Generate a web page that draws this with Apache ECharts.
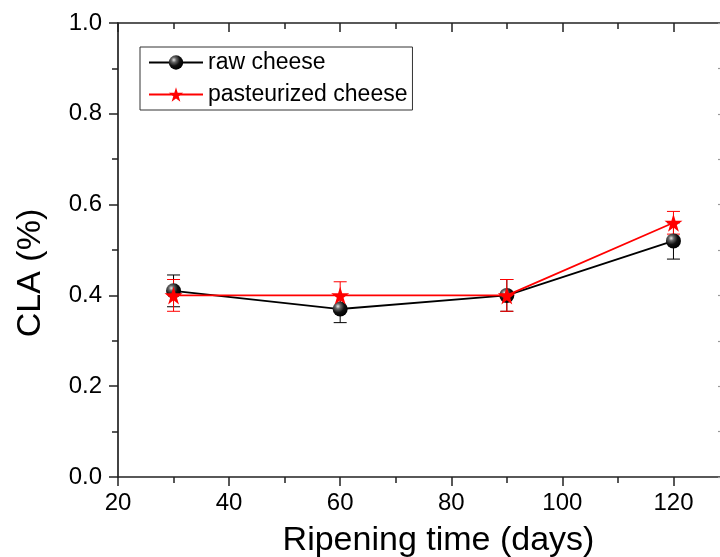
<!DOCTYPE html>
<html>
<head>
<meta charset="utf-8">
<script src="https://cdn.jsdelivr.net/npm/echarts@6/dist/echarts.min.js"></script>
<style>
  html, body { margin: 0; padding: 0; background: #fff; overflow: hidden; }
  #chart { width: 745px; height: 557px; }
</style>
</head>
<body>
<div id="chart"></div>
<script>
// ripening days
const days = [30, 60, 90, 120];
// CLA (%) means and error
const rawCheese = [0.41, 0.37, 0.40, 0.52];
const rawErr = [0.035, 0.03, 0.035, 0.04];
const pastCheese = [0.40, 0.40, 0.40, 0.56];
const pastErr = [0.035, 0.03, 0.035, 0.025];

const FONT = "'Liberation Sans', Arial, sans-serif";
const STAR = 'path://M50,0 L61,35 L98,35 L68,57 L79,91 L50,70 L21,91 L32,57 L2,35 L39,35 Z';

const sphere = new echarts.graphic.RadialGradient(0.35, 0.32, 0.7, [
  { offset: 0, color: '#e6e6e6' },
  { offset: 0.25, color: '#666' },
  { offset: 0.6, color: '#111' },
  { offset: 1, color: '#000' }
]);

function errorSeries(name, vals, errs, color) {
  return {
    name: name,
    type: 'custom',
    z: 2,
    silent: true,
    data: days.map((d, i) => [d, vals[i] - errs[i], vals[i] + errs[i]]),
    renderItem(params, api) {
      const lo = api.coord([api.value(0), api.value(1)]);
      const hi = api.coord([api.value(0), api.value(2)]);
      const w = 6.5;
      const style = { stroke: color, lineWidth: 1 };
      return {
        type: 'group',
        children: [
          { type: 'line', shape: { x1: lo[0], y1: lo[1], x2: hi[0], y2: hi[1] }, style },
          { type: 'line', shape: { x1: lo[0] - w, y1: lo[1], x2: lo[0] + w, y2: lo[1] }, style },
          { type: 'line', shape: { x1: hi[0] - w, y1: hi[1], x2: hi[0] + w, y2: hi[1] }, style }
        ]
      };
    }
  };
}

const axisLine = { show: true, lineStyle: { color: '#222', width: 1.7 } };

const chart = echarts.init(document.getElementById('chart'));
chart.setOption({
  animation: false,
  textStyle: { fontFamily: FONT },
  // plot runs past the 720px window on the right, like the cropped original
  grid: { left: 118, right: 16, top: 23, bottom: 80, outerBoundsMode: 'none' },
  legend: {
    left: 140,
    top: 47,
    orient: 'vertical',
    padding: [4, 5, 4, 8],
    itemWidth: 54,
    itemHeight: 18,
    itemGap: 9,
    borderColor: '#333',
    borderWidth: 1,
    borderRadius: 0,
    textStyle: { fontFamily: FONT, fontSize: 23, lineHeight: 20, color: '#000' },
    data: ['raw cheese', 'pasteurized cheese']
  },
  xAxis: [
    {
      type: 'value', position: 'bottom', min: 20, max: 130, interval: 20,
      name: 'Ripening time (days)', nameLocation: 'middle', nameGap: 47,
      nameTextStyle: { fontFamily: FONT, fontSize: 34, color: '#000', padding: [0, 0, 0, 30] },
      axisLine: axisLine,
      axisTick: { show: true, length: 9, lineStyle: { color: '#222', width: 1.5 } },
      axisLabel: { fontFamily: FONT, fontSize: 24, color: '#000', margin: 14, showMaxLabel: false },
      splitLine: { show: false }
    },
    {
      type: 'value', position: 'bottom', min: 20, max: 130, interval: 10,
      axisLine: { show: false },
      axisTick: { show: true, length: 6, lineStyle: { color: '#222', width: 1.5 } },
      axisLabel: { show: false },
      splitLine: { show: false }
    },
    {
      type: 'value', position: 'top', min: 20, max: 130, interval: 20,
      axisLine: axisLine,
      axisTick: { show: true, inside: true, length: 9, lineStyle: { color: '#222', width: 1.5 } },
      axisLabel: { show: false },
      splitLine: { show: false }
    },
    {
      type: 'value', position: 'top', min: 20, max: 130, interval: 10,
      axisLine: { show: false },
      axisTick: { show: true, inside: true, length: 6, lineStyle: { color: '#222', width: 1.5 } },
      axisLabel: { show: false },
      splitLine: { show: false }
    }
  ],
  yAxis: [
    {
      type: 'value', position: 'left', min: 0, max: 1, interval: 0.2,
      name: 'CLA (%)', nameLocation: 'middle', nameGap: 70,
      nameTextStyle: { fontFamily: FONT, fontSize: 34, color: '#000', padding: [0, 46, 0, 0] },
      axisLine: axisLine,
      axisTick: { show: true, length: 9, lineStyle: { color: '#222', width: 1.5 } },
      minorTick: { show: true, splitNumber: 2, length: 6, lineStyle: { color: '#222', width: 1.5 } },
      axisLabel: { fontFamily: FONT, fontSize: 24, color: '#000', margin: 16, formatter: v => v.toFixed(1) },
      splitLine: { show: false }
    },
    {
      type: 'value', position: 'right', min: 0, max: 1, interval: 0.2,
      axisLine: axisLine,
      axisTick: { show: true, inside: true, length: 11, lineStyle: { color: '#999', width: 1.2 } },
      minorTick: { show: true, splitNumber: 2, length: 11, lineStyle: { color: '#999', width: 1.2 } },
      axisLabel: { show: false },
      splitLine: { show: false }
    }
  ],
  series: [
    {
      name: 'raw cheese',
      type: 'line',
      z: 3,
      data: days.map((d, i) => [d, rawCheese[i]]),
      symbol: 'circle',
      symbolSize: 15,
      itemStyle: { color: sphere, borderWidth: 0 },
      lineStyle: { color: '#000', width: 1.8 }
    },
    {
      name: 'pasteurized cheese',
      type: 'line',
      z: 4,
      data: days.map((d, i) => [d, pastCheese[i]]),
      symbol: STAR,
      symbolSize: 18,
      itemStyle: { color: '#f00', borderWidth: 0 },
      lineStyle: { color: '#f00', width: 1.8 }
    },
    errorSeries('raw cheese error', rawCheese, rawErr, '#000'),
    errorSeries('pasteurized cheese error', pastCheese, pastErr, '#f00')
  ]
});
</script>
</body>
</html>
